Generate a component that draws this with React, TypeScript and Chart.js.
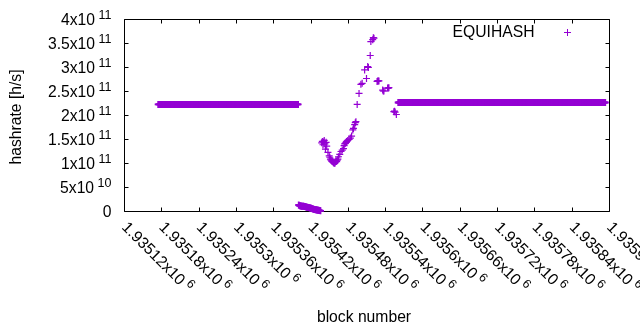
import React, { useEffect, useRef } from "react";
import { Chart, registerables } from "chart.js";

Chart.register(...registerables);

// ---------- data ----------
const seriesLabel = "EQUIHASH";
const xTitle = "block number";
const yTitle = "hashrate [h/s]";

// x axis range and ticks
const xMin = 1935120;
const xMax = 1935900;
const xTickValues = [
  1935120, 1935180, 1935240, 1935300, 1935360, 1935420, 1935480,
  1935540, 1935600, 1935660, 1935720, 1935780, 1935840, 1935900,
];
const xTickBases = [
  "1.93512x10", "1.93518x10", "1.93524x10", "1.9353x10", "1.93536x10",
  "1.93542x10", "1.93548x10", "1.93554x10", "1.9356x10", "1.93566x10",
  "1.93572x10", "1.93578x10", "1.93584x10", "1.9359x10",
];
const xTickExponents = ["6", "6", "6", "6", "6", "6", "6", "6", "6", "6", "6", "6", "6", "6"];

// y axis range and ticks
const yMin = 0;
const yMax = 4e11;
const yTickValues = [0, 5e10, 1e11, 1.5e11, 2e11, 2.5e11, 3e11, 3.5e11, 4e11];
const yTickBases = ["0", "5x10", "1x10", "1.5x10", "2x10", "2.5x10", "3x10", "3.5x10", "4x10"];
const yTickExponents = ["", "10", "11", "11", "11", "11", "11", "11", "11"];

// constant-hashrate runs: one point per block from start to end (inclusive)
const runStartBlocks = [1935175, 1935561];
const runEndBlocks = [1935400, 1935894];
const runHashrates = [2.22e11, 2.26e11];

// collapse right after the first run: consecutive blocks starting at 1935401
const dropStartBlock = 1935401;
const dropHashrates = [
  1.25e10, 1.15e10, 1.1e10, 1.05e10, 1.05e10, 1.0e10, 1.0e10, 1.0e10, 0.98e10, 0.95e10,
  0.95e10, 0.9e10, 0.85e10, 0.8e10, 0.78e10, 0.75e10, 0.72e10, 0.7e10, 0.65e10, 0.6e10,
  0.55e10, 0.5e10, 0.45e10, 0.4e10, 0.36e10, 0.33e10, 0.3e10, 0.28e10, 0.25e10, 0.22e10,
  0.2e10, 0.18e10, 0.15e10, 0.12e10, 0.08e10, 0.04e10,
];

// recovery / spike region
const spikeBlocks = [
  1935438, 1935439, 1935440, 1935441, 1935442, 1935443, 1935444, 1935445, 1935446, 1935448,
  1935450, 1935451, 1935452, 1935453, 1935454, 1935455, 1935456, 1935457, 1935458, 1935459,
  1935460, 1935461, 1935462, 1935463, 1935464, 1935465, 1935467, 1935469, 1935471, 1935473,
  1935474, 1935475, 1935476, 1935477, 1935478, 1935480, 1935482, 1935484, 1935486, 1935488,
  1935489, 1935491, 1935492, 1935493, 1935495, 1935498, 1935501, 1935503, 1935507, 1935510,
  1935512, 1935513, 1935516, 1935517, 1935520, 1935521, 1935522, 1935527, 1935528, 1935529,
  1935530, 1935536, 1935537, 1935538, 1935544, 1935545, 1935546, 1935554, 1935555, 1935556,
  1935558,
];
const spikeHashrates = [
  1.42e11, 1.45e11, 1.38e11, 1.44e11, 1.47e11, 1.4e11, 1.29e11, 1.43e11, 1.35e11, 1.22e11,
  1.15e11, 1.12e11, 1.08e11, 1.06e11, 1.04e11, 1.03e11, 1.02e11, 1.0e11, 1.01e11, 0.99e11,
  1.02e11, 1.05e11, 1.03e11, 1.06e11, 1.08e11, 1.13e11, 1.18e11, 1.24e11, 1.27e11, 1.3e11,
  1.36e11, 1.4e11, 1.41e11, 1.43e11, 1.45e11, 1.47e11, 1.49e11, 1.52e11, 1.56e11, 1.69e11,
  1.72e11, 1.8e11, 1.84e11, 1.86e11, 2.22e11, 2.45e11, 2.64e11, 2.66e11, 2.94e11, 2.76e11,
  3.01e11, 2.99e11, 3.24e11, 3.53e11, 3.57e11, 3.61e11, 3.6e11, 2.7e11, 2.71e11, 2.71e11,
  2.71e11, 2.52e11, 2.5e11, 2.5e11, 2.56e11, 2.56e11, 2.57e11, 2.07e11, 2.08e11, 2.06e11,
  2.01e11,
];

// ---------- styling ----------
const FONT = "'Liberation Sans', Arial, sans-serif";
const FS = 15.7;
const SUP_FS = 12.5;
const SUP_GAP = 3.5;
const PURPLE = "#9400d3";

function buildDensePoints() {
  const pts: { x: number; y: number }[] = [];
  for (let r = 0; r < runStartBlocks.length; r++) {
    for (let b = runStartBlocks[r]; b <= runEndBlocks[r]; b++) {
      pts.push({ x: b, y: runHashrates[r] });
    }
  }
  dropHashrates.forEach((v, i) => pts.push({ x: dropStartBlock + i, y: v }));
  return pts;
}

function buildSpikePoints() {
  return spikeBlocks.map((b, i) => ({ x: b, y: spikeHashrates[i] }));
}

const gnuplotDecor = {
  id: "gnuplotDecor",
  beforeDatasetsDraw(chart: any) {
    const { ctx, chartArea: a, scales } = chart;
    const xs = scales.x;
    const ys = scales.y;
    const L = Math.round(a.left) + 0.5;
    const R = Math.round(a.right) + 0.5;
    const T = Math.round(a.top) + 0.5;
    const B = Math.round(a.bottom) + 0.5;
    const tick = 4;
    ctx.save();
    ctx.strokeStyle = "#000";
    ctx.lineWidth = 1;
    ctx.beginPath();
    ctx.rect(L, T, R - L, B - T);
    ctx.stroke();

    ctx.beginPath();
    yTickValues.forEach((v) => {
      const y = Math.round(ys.getPixelForValue(v)) + 0.5;
      ctx.moveTo(L, y);
      ctx.lineTo(L + tick, y);
      ctx.moveTo(R, y);
      ctx.lineTo(R - tick, y);
    });
    xTickValues.forEach((v) => {
      const x = Math.round(xs.getPixelForValue(v)) + 0.5;
      ctx.moveTo(x, B);
      ctx.lineTo(x, B - tick);
      ctx.moveTo(x, T);
      ctx.lineTo(x, T + tick);
    });
    ctx.stroke();

    ctx.fillStyle = "#000";
    // y tick labels
    const yRight = 111.5;
    yTickValues.forEach((v, i) => {
      const y = ys.getPixelForValue(v);
      const base = yTickBases[i];
      const exp = yTickExponents[i];
      ctx.font = `${SUP_FS}px ${FONT}`;
      const ew = exp ? ctx.measureText(exp).width : 0;
      const gap = exp ? SUP_GAP : 0;
      ctx.textBaseline = "alphabetic";
      ctx.textAlign = "right";
      ctx.font = `${FS}px ${FONT}`;
      ctx.fillText(base, yRight - ew - gap, y + 5.6);
      if (exp) {
        ctx.font = `${SUP_FS}px ${FONT}`;
        ctx.textAlign = "left";
        ctx.fillText(exp, yRight - ew, y + 5.6 - 6);
      }
    });

    // x tick labels (rotated -45deg gnuplot style)
    xTickValues.forEach((v, i) => {
      const x = xs.getPixelForValue(v);
      ctx.save();
      ctx.translate(x + 1, 224);
      ctx.rotate(Math.PI / 4);
      ctx.textAlign = "left";
      ctx.textBaseline = "alphabetic";
      ctx.font = `${FS}px ${FONT}`;
      const base = xTickBases[i];
      const w = ctx.measureText(base).width;
      ctx.fillText(base, 0, 5.6);
      ctx.font = `${SUP_FS}px ${FONT}`;
      ctx.fillText(xTickExponents[i], w + SUP_GAP, 5.6 - 6);
      ctx.restore();
    });

    // axis titles
    ctx.font = `${FS}px ${FONT}`;
    ctx.textAlign = "center";
    ctx.textBaseline = "alphabetic";
    ctx.fillText(xTitle, 364, 321.5);
    ctx.save();
    ctx.translate(21, 117);
    ctx.rotate(-Math.PI / 2);
    ctx.fillText(yTitle, 0, 0);
    ctx.restore();

    // key
    ctx.textAlign = "right";
    ctx.fillText(seriesLabel, 534.5, 37.3);
    ctx.strokeStyle = PURPLE;
    ctx.beginPath();
    ctx.moveTo(564, 32.5);
    ctx.lineTo(571, 32.5);
    ctx.moveTo(567.5, 29);
    ctx.lineTo(567.5, 36);
    ctx.stroke();
    ctx.restore();
  },
};

export default function App() {
  const canvasRef = useRef<HTMLCanvasElement | null>(null);

  useEffect(() => {
    const canvas = canvasRef.current;
    if (!canvas) return;
    const common = {
      label: seriesLabel,
      pointStyle: "cross",
      pointRadius: 3.5,
      pointHoverRadius: 3.5,
      borderColor: PURPLE,
      backgroundColor: PURPLE,
      clip: false,
    };
    const chart = new Chart(canvas, {
      type: "scatter",
      data: {
        datasets: [
          { ...common, data: buildDensePoints(), borderWidth: 1.8 } as any,
          { ...common, data: buildSpikePoints(), borderWidth: 1.2 } as any,
        ],
      },
      options: {
        responsive: false,
        animation: false,
        devicePixelRatio: 1,
        events: [],
        layout: { padding: { left: 124, right: 31, top: 19, bottom: 119 } },
        plugins: { legend: { display: false }, tooltip: { enabled: false } },
        scales: {
          x: { type: "linear", display: false, min: xMin, max: xMax },
          y: { type: "linear", display: false, min: yMin, max: yMax },
        },
      },
      plugins: [gnuplotDecor],
    });
    return () => chart.destroy();
  }, []);

  return (
    <div style={{ position: "absolute", left: 0, top: 0, width: 640, height: 330, background: "#fff" }}>
      <canvas ref={canvasRef} width={640} height={330} style={{ width: 640, height: 330, display: "block" }} />
    </div>
  );
}
